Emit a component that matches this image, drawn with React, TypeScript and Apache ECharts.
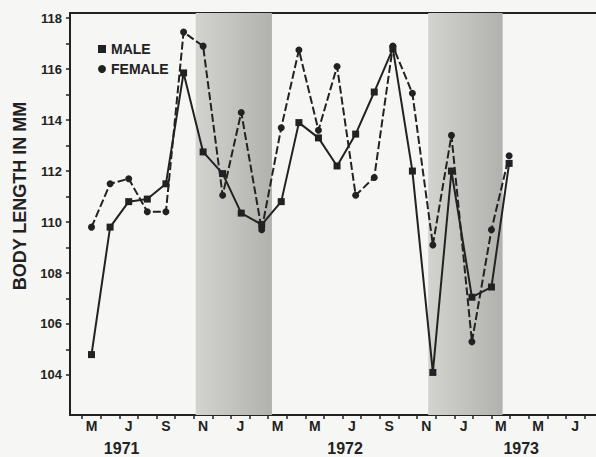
import React, { useEffect, useRef } from "react";
import * as echarts from "echarts";

// Sampling dates, in months since May 1971
const sampleMonths = [0, 1, 2, 3, 4, 4.95, 6, 7.05, 8.05, 9.15, 10.2, 11.15, 12.2, 13.2, 14.2, 15.2, 16.2, 17.25, 18.35, 19.35, 20.45, 21.5, 22.45];
// Mean body length (mm)
const maleLength = [104.8, 109.8, 110.8, 110.9, 111.5, 115.85, 112.75, 111.9, 110.35, 109.9, 110.8, 113.9, 113.3, 112.2, 113.45, 115.1, 116.8, 112.0, 104.1, 112.0, 107.05, 107.45, 112.3];
const femaleLength = [109.8, 111.5, 111.7, 110.4, 110.4, 117.45, 116.9, 111.05, 114.3, 109.7, 113.7, 116.75, 113.6, 116.1, 111.05, 111.75, 116.9, 115.05, 109.1, 113.4, 105.3, 109.7, 112.6];

// Axis labels
const monthLabelPositions = [0, 2, 4, 6, 8, 10, 12, 14, 16, 18, 20, 22, 24, 26];
const monthLabels = ["M", "J", "S", "N", "J", "M", "M", "J", "S", "N", "J", "M", "M", "J"];
const monthTickPositions = Array.from({ length: 28 }, (_, i) => i - 0.5);
const yearLabelPositions = [1.62, 13.63, 23.1];
const yearLabels = ["1971", "1972", "1973"];
const yLabelValues = [104, 106, 108, 110, 112, 114, 116, 118];
const yTickValues = [104, 105, 106, 107, 108, 109, 110, 111, 112, 113, 114, 115, 116, 117, 118];

// Shaded (winter) periods, months since May 1971
const shadedBands = [
  [5.6, 9.7],
  [18.1, 22.1],
];

const INK = "#222222";
const FONT = "'Liberation Sans', Arial, Helvetica, sans-serif";

function nearestLabel(v: number, positions: number[], labels: string[]) {
  let best = -1;
  let bd = 1e9;
  positions.forEach((p, i) => {
    const d = Math.abs(p - v);
    if (d < bd) {
      bd = d;
      best = i;
    }
  });
  return bd < 0.3 ? labels[best] : "";
}

export default function App() {
  const ref = useRef<HTMLDivElement>(null);

  useEffect(() => {
    if (!ref.current) return;
    const chart = echarts.init(ref.current, null, { renderer: "svg" });
    const xMin = -1.156;
    const xMax = 27.12;

    const bandColor = new echarts.graphic.LinearGradient(0, 0, 1, 0, [
      { offset: 0, color: "#d3d3d0" },
      { offset: 1, color: "#b1b1ae" },
    ]);

    chart.setOption({
      animation: false,
      backgroundColor: "#f6f6f4",
      textStyle: { fontFamily: FONT },
      grid: { left: 70, right: 0, top: 13, bottom: 42 },
      legend: {
        orient: "vertical",
        left: 93,
        top: 37,
        itemWidth: 8,
        itemHeight: 8,
        itemGap: 6,
        textStyle: { fontSize: 14, fontWeight: "bold", color: INK, fontFamily: FONT },
        data: [
          { name: "MALE", icon: "rect" },
          { name: "FEMALE", icon: "circle" },
        ],
      },
      graphic: [
        {
          type: "text",
          x: 20,
          y: 196,
          rotation: Math.PI / 2,
          style: {
            text: "BODY LENGTH IN MM",
            fill: INK,
            font: `bold 18px ${FONT}`,
            textAlign: "center",
            textVerticalAlign: "middle",
          },
        },
      ],
      xAxis: [
        {
          type: "value",
          min: xMin,
          max: xMax,
          position: "bottom",
          splitLine: { show: false },
          axisLine: { show: true, onZero: false, lineStyle: { color: INK, width: 2 } },
          axisTick: {
            show: true,
            inside: false,
            length: 4,
            customValues: monthTickPositions,
            lineStyle: { color: INK, width: 1.5 },
          },
          axisLabel: {
            customValues: monthLabelPositions,
            formatter: (v: number) => nearestLabel(v, monthLabelPositions, monthLabels),
            fontSize: 14,
            fontWeight: "bold",
            color: INK,
            margin: 4,
            fontFamily: FONT,
          },
        },
        {
          type: "value",
          min: xMin,
          max: xMax,
          position: "bottom",
          splitLine: { show: false },
          axisLine: { show: false, onZero: false },
          axisTick: { show: false },
          axisLabel: {
            customValues: yearLabelPositions,
            formatter: (v: number) => nearestLabel(v, yearLabelPositions, yearLabels),
            fontSize: 16,
            fontWeight: "bold",
            color: INK,
            margin: 25,
            fontFamily: FONT,
          },
        },
        {
          type: "value",
          min: xMin,
          max: xMax,
          position: "top",
          splitLine: { show: false },
          axisLine: { show: true, onZero: false, lineStyle: { color: INK, width: 2 } },
          axisTick: { show: false },
          axisLabel: { show: false },
        },
      ],
      yAxis: {
        type: "value",
        min: 102.43,
        max: 118.2,
        position: "left",
        splitLine: { show: false },
        axisLine: { show: true, onZero: false, lineStyle: { color: INK, width: 2 } },
        axisTick: {
          show: true,
          length: 4,
          customValues: yTickValues,
          lineStyle: { color: INK, width: 1.5 },
        },
        axisLabel: {
          customValues: yLabelValues,
          fontSize: 13,
          fontWeight: "bold",
          color: INK,
          margin: 8,
          fontFamily: FONT,
        },
      },
      series: [
        {
          name: "FEMALE",
          type: "line",
          xAxisIndex: 0,
          data: sampleMonths.map((m, i) => [m, femaleLength[i]]),
          symbol: "circle",
          symbolSize: 7,
          itemStyle: { color: INK },
          lineStyle: { color: INK, width: 2, type: [8, 3] },
          markArea: {
            silent: true,
            itemStyle: { color: bandColor },
            data: shadedBands.map((b) => [{ xAxis: b[0] }, { xAxis: b[1] }]),
          },
          z: 3,
        },
        {
          name: "MALE",
          type: "line",
          xAxisIndex: 0,
          data: sampleMonths.map((m, i) => [m, maleLength[i]]),
          symbol: "rect",
          symbolSize: 7,
          itemStyle: { color: INK },
          lineStyle: { color: INK, width: 2 },
          z: 4,
        },
      ],
    });

    return () => chart.dispose();
  }, []);

  return (
    <div
      ref={ref}
      style={{ position: "fixed", left: 0, top: 0, width: 596, height: 457 }}
    />
  );
}
